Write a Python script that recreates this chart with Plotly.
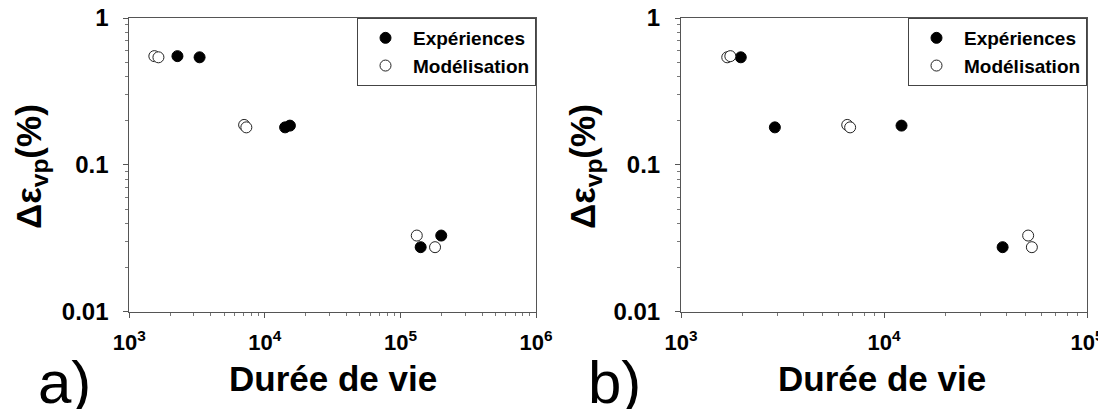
import plotly.graph_objects as go

# Panel a data
a_exp_x = [2265, 3300, 14100, 15300, 141000, 200000]
a_exp_y = [0.55, 0.54, 0.18, 0.185, 0.0275, 0.033]
a_mod_x = [1530, 1640, 7030, 7300, 132000, 180000]
a_mod_y = [0.55, 0.54, 0.187, 0.18, 0.033, 0.0275]

# Panel b data
b_exp_x = [1970, 2900, 12200, 38400]
b_exp_y = [0.54, 0.18, 0.185, 0.0275]
b_mod_x = [1690, 1750, 6590, 6810, 51300, 53500]
b_mod_y = [0.54, 0.55, 0.187, 0.18, 0.033, 0.0275]

legend_names = ["Expériences", "Modélisation"]
y_ticks = [0.01, 0.1, 1]
y_ticktext = ["0.01", "0.1", "1"]
a_xticks = [1e3, 1e4, 1e5, 1e6]
a_xticktext = ["10<sup>3</sup>", "10<sup>4</sup>", "10<sup>5</sup>", "10<sup>6</sup>"]
b_xticks = [1e3, 1e4, 1e5]
b_xticktext = ["10<sup>3</sup>", "10<sup>4</sup>", "10<sup>5</sup>"]

FONT = "Arial, Liberation Sans, sans-serif"
OFF = 8  # page body margin compensation
W, H = 1106 - 2 * OFF, 417 - 2 * OFF  # avoid page overflow / scrollbars


def px(x):
    return (x - OFF) / W


def py(y):
    return 1 - (y - OFF) / H


fig = go.Figure()

filled = dict(color="black", size=11, line=dict(color="black", width=1))
opened = dict(color="white", size=11, line=dict(color="#222", width=1))

fig.add_trace(go.Scatter(x=a_exp_x, y=a_exp_y, mode="markers", name=legend_names[0],
                         marker=filled, xaxis="x", yaxis="y", legend="legend"))
fig.add_trace(go.Scatter(x=a_mod_x, y=a_mod_y, mode="markers", name=legend_names[1],
                         marker=opened, xaxis="x", yaxis="y", legend="legend"))
fig.add_trace(go.Scatter(x=b_exp_x, y=b_exp_y, mode="markers", name=legend_names[0],
                         marker=filled, xaxis="x2", yaxis="y2", legend="legend2"))
fig.add_trace(go.Scatter(x=b_mod_x, y=b_mod_y, mode="markers", name=legend_names[1],
                         marker=opened, xaxis="x2", yaxis="y2", legend="legend2"))

ydom = [py(311.7), py(18)]
axcommon = dict(type="log", showline=True, mirror=True, linecolor="#555", linewidth=1,
                ticks="outside", ticklen=5, tickcolor="#555", showgrid=False, zeroline=False,
                automargin=False, ticklabeloverflow="allow",
                minor=dict(ticks="outside", ticklen=3, tickcolor="#777", dtick="D1", showgrid=False))
xfont = dict(family=FONT, size=22, color="black", weight="bold")
yfont = dict(family=FONT, size=24, color="black", weight="bold")

legfont = dict(family=FONT, size=19, color="black", weight="bold")

fig.update_layout(
    width=W, height=H, margin=dict(l=0, r=0, t=0, b=0, autoexpand=False),
    paper_bgcolor="white", plot_bgcolor="white",
    font=dict(family=FONT, color="black"),
    xaxis=dict(axcommon, domain=[px(129.3), px(536)], range=[3, 6], anchor="y",
               tickmode="array", tickvals=a_xticks, ticktext=a_xticktext,
               tickfont=xfont, ticklabelstandoff=6),
    yaxis=dict(axcommon, domain=ydom, range=[-2, 0], anchor="x",
               tickmode="array", tickvals=y_ticks, ticktext=y_ticktext,
               tickfont=yfont, ticklabelstandoff=10),
    xaxis2=dict(axcommon, domain=[px(681), px(1087)], range=[3, 5], anchor="y2",
                tickmode="array", tickvals=b_xticks, ticktext=b_xticktext,
                tickfont=xfont, ticklabelstandoff=6),
    yaxis2=dict(axcommon, domain=ydom, range=[-2, 0], anchor="x2",
                tickmode="array", tickvals=y_ticks, ticktext=y_ticktext,
                tickfont=yfont, ticklabelstandoff=10),
    legend=dict(x=px(536), xanchor="right", y=py(18), yanchor="top",
                bgcolor="white", bordercolor="#444", borderwidth=1,
                font=legfont, itemwidth=45, tracegroupgap=0),
    legend2=dict(x=px(1087), xanchor="right", y=py(18), yanchor="top",
                 bgcolor="white", bordercolor="#444", borderwidth=1,
                 font=legfont, itemwidth=45, tracegroupgap=0),
    showlegend=True,
)

annots = []
for cx in (333, 882):
    annots.append(dict(text="<b>Durée de vie</b>", x=px(cx), y=py(378)))
for cx in (31, 585):
    annots.append(dict(text="<b>Δε<sub>vp</sub>(%)</b>", x=px(cx), y=py(167), textangle=-90))
for cx, lab in ((64, "a)"), (614, "b)")):
    annots.append(dict(text=lab, x=px(cx), y=py(382), font=dict(family=FONT, size=60, color="black")))
for a in annots:
    a.update(xref="paper", yref="paper", showarrow=False, xanchor="center", yanchor="middle")
    a.setdefault("font", dict(family=FONT, size=35, color="black"))
fig.update_layout(annotations=annots)

fig.write_html("out.html")
